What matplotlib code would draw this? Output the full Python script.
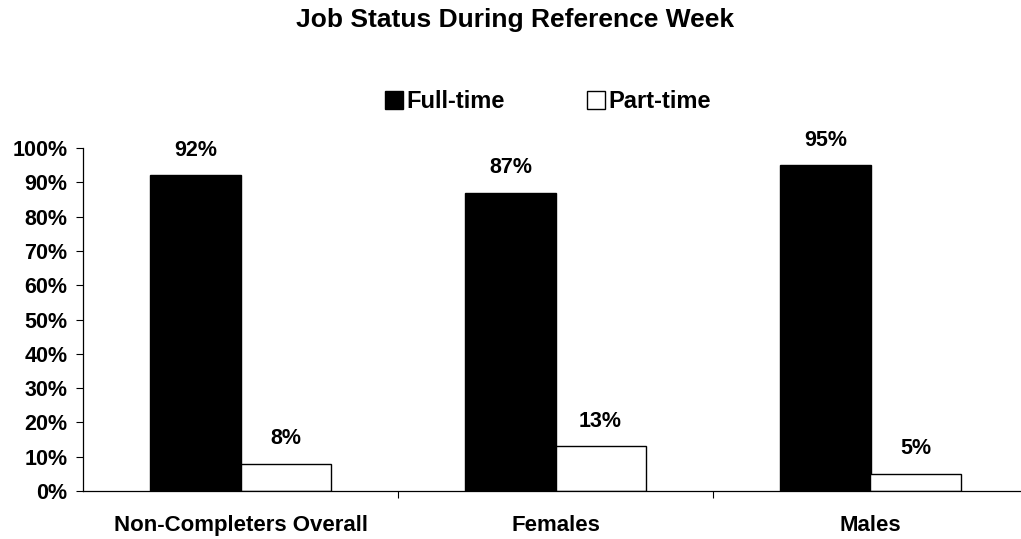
import numpy as np
import matplotlib
matplotlib.use('Agg')
import matplotlib.pyplot as plt
from matplotlib.patches import Patch

# data
categories = ['Non-Completers Overall', 'Females', 'Males']
full_time = [92, 87, 95]
part_time = [8, 13, 5]
series_names = ['Full-time', 'Part-time']

plt.rcParams['font.family'] = ['Liberation Sans', 'DejaVu Sans']
plt.rcParams['font.weight'] = 'bold'

fig = plt.figure(figsize=(10.21, 5.39), dpi=100)
ax = fig.add_axes([83/1021, 48/539, 945/1021, 343/539])

x = np.arange(len(categories))
w = 0.286
b1 = ax.bar(x - w/2, full_time, w, color='black', edgecolor='black', linewidth=1)
b2 = ax.bar(x + w/2, part_time, w, color='white', edgecolor='black', linewidth=1)

for bars, vals in [(b1, full_time), (b2, part_time)]:
    for rect, v in zip(bars, vals):
        ax.annotate(f'{v}%', (rect.get_x() + rect.get_width()/2, v),
                    xytext=(0, 18), textcoords='offset points',
                    ha='center', va='center', fontsize=15.5, fontweight='bold')

ax.set_xlim(-0.5, 2.5)
ax.set_ylim(0, 100)
ax.set_yticks(np.arange(0, 101, 10))
ax.set_yticklabels([f'{t}%' for t in range(0, 101, 10)], fontsize=15.5, fontweight='bold')
ax.set_xticks(x)
ax.set_xticklabels(categories, fontsize=16, fontweight='bold')
ax.set_xticks([0.5, 1.5], minor=True)
ax.tick_params(axis='x', which='major', length=0, pad=17)
ax.tick_params(axis='x', which='minor', length=5, width=0.8, direction='out')
ax.tick_params(axis='y', length=5, width=0.8, direction='out', pad=6)

for s in ['top', 'right']:
    ax.spines[s].set_visible(False)
for s in ['left', 'bottom']:
    ax.spines[s].set_linewidth(0.9)
    ax.spines[s].set_clip_on(False)

handles = [Patch(facecolor='black', edgecolor='black'),
           Patch(facecolor='white', edgecolor='black')]
fig.legend(handles, series_names, loc='center', bbox_to_anchor=(548/1021, 1 - 102/539),
           ncol=2, frameon=False, prop={'size': 17, 'weight': 'bold'},
           handlelength=0.78, handleheight=0.78, handletextpad=0.15,
           columnspacing=3.45, borderpad=0)

fig.text(515/1021, 1 - 20/539, 'Job Status During Reference Week',
         ha='center', va='center', fontsize=19, fontweight='bold')

fig.savefig('out.png', dpi=100)
